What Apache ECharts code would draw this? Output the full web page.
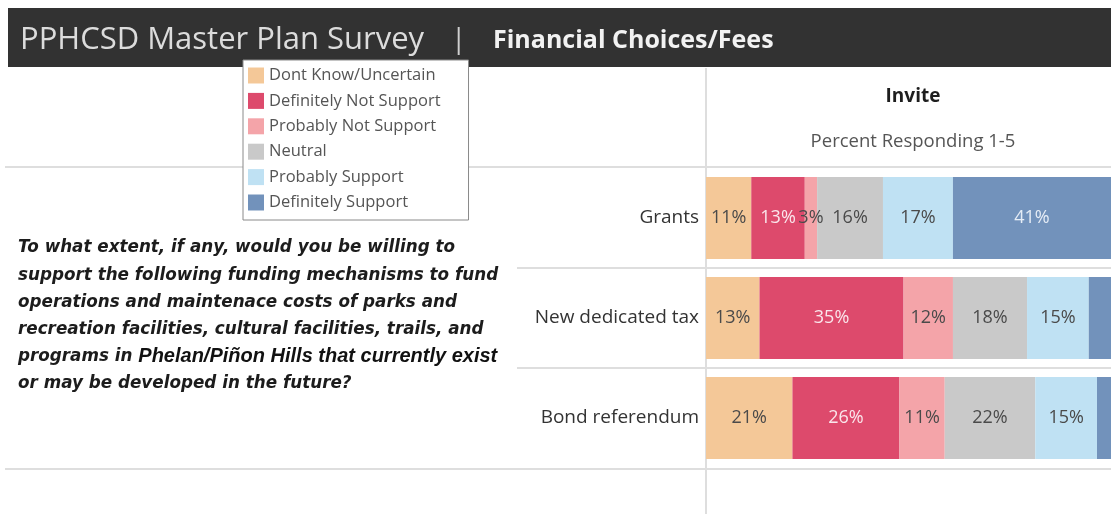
<!DOCTYPE html>
<html>
<head>
<meta charset="utf-8">
<script src="https://cdn.jsdelivr.net/npm/echarts@6/dist/echarts.min.js"></script>
<style>
  html, body { margin: 0; padding: 0; background: #fff; }
  #main { width: 1111px; height: 514px; }
</style>
</head>
<body>
<div id="main"></div>
<script>
// data
var categories = ["Grants", "New dedicated tax", "Bond referendum"];
var responseNames = ["Dont Know/Uncertain", "Definitely Not Support", "Probably Not Support", "Neutral", "Probably Support", "Definitely Support"];
var dontKnow = [11, 13, 21];
var defNotSupport = [13, 35, 26];
var probNotSupport = [3, 12, 11];
var neutral = [16, 18, 22];
var probSupport = [17, 15, 15];
var defSupport = [41, 7, 5];
var questionLines = [
  "To what extent, if any, would you be willing to",
  "support the following funding mechanisms to fund",
  "operations and maintenace costs of parks and",
  "recreation facilities, cultural facilities, trails, and",
  "programs in ",
  "or may be developed in the future?"
];
var questionInsert = "Phelan/Piñon Hills that currently exist";

var seriesValues = [dontKnow, defNotSupport, probNotSupport, neutral, probSupport, defSupport];
var colors = ["#f4c898", "#dd4a6c", "#f4a4a9", "#c9c9c9", "#bfe1f3", "#7292bb"];
var labelColors = ["#4a4a4a", "#fae6eb", "#4a4a4a", "#4a4a4a", "#4a4a4a", "#e6edf6"];

var chart = echarts.init(document.getElementById("main"));

var series = responseNames.map(function (name, i) {
  return {
    name: name,
    type: "bar",
    stack: "total",
    barWidth: 82,
    data: seriesValues[i],
    itemStyle: { color: colors[i] },
    label: {
      show: true,
      position: "inside",
      color: labelColors[i],
      fontSize: 18,
      fontFamily: "Open Sans",
      formatter: function (p) {
        // the last segment is cut off at the right edge
        if (p.seriesIndex === 5 && p.value < 10) return "";
        return p.value + "%";
      }
    }
  };
});

var lineStyle = { stroke: "#dedede", lineWidth: 2 };
var qFont = "bold italic 16.8px 'DejaVu Sans'";

var graphics = [
  { type: "rect", shape: { x: 8, y: 8, width: 1103, height: 59 }, style: { fill: "#323232" }, z: 1 },
  { type: "text", x: 20, y: 40, style: { text: "PPHCSD Master Plan Survey", font: "31px 'Open Sans'", fill: "#dcdcdc", verticalAlign: "middle" }, z: 2 },
  { type: "text", x: 451, y: 40, style: { text: "|", font: "28px 'Open Sans'", fill: "#cfcfcf", verticalAlign: "middle" }, z: 2 },
  { type: "text", x: 493, y: 41, style: { text: "Financial Choices/Fees", font: "bold 25px 'Open Sans'", fill: "#f2f2f2", verticalAlign: "middle" }, z: 2 },
  { type: "line", shape: { x1: 5, y1: 167, x2: 1111, y2: 167 }, style: lineStyle, z: 0 },
  { type: "line", shape: { x1: 517, y1: 268, x2: 1111, y2: 268 }, style: lineStyle, z: 0 },
  { type: "line", shape: { x1: 517, y1: 368, x2: 1111, y2: 368 }, style: lineStyle, z: 0 },
  { type: "line", shape: { x1: 5, y1: 469, x2: 1111, y2: 469 }, style: lineStyle, z: 0 },
  { type: "line", shape: { x1: 706, y1: 68, x2: 706, y2: 514 }, style: lineStyle, z: 0 },
  { type: "text", x: 913, y: 97, style: { text: "Invite", font: "bold 19px 'Open Sans'", fill: "#1e1e1e", align: "center", verticalAlign: "middle" } },
  { type: "text", x: 913, y: 142, style: { text: "Percent Responding 1-5", font: "18.5px 'Open Sans'", fill: "#555", align: "center", verticalAlign: "middle" } }
];

questionLines.forEach(function (t, i) {
  var y = 248 + i * 27.2;
  if (i === 4) {
    graphics.push({
      type: "text", x: 18, y: y,
      style: {
        text: "{a|" + t + "}{b|" + questionInsert + "}",
        verticalAlign: "middle",
        rich: {
          a: { font: qFont, fill: "#1c1c1c" },
          b: { font: "bold italic 20px 'Liberation Sans'", fill: "#111" }
        }
      }
    });
  } else {
    graphics.push({ type: "text", x: 18, y: y, style: { text: t, font: qFont, fill: "#1c1c1c", verticalAlign: "middle" } });
  }
});

var option = {
  animation: false,
  backgroundColor: "#fff",
  grid: { left: 706, top: 168, right: 0, height: 300, containLabel: false },
  legend: {
    data: responseNames,
    orient: "vertical",
    left: 243,
    top: 60,
    z: 10,
    icon: "rect",
    itemWidth: 16,
    itemHeight: 16,
    itemGap: 8.4,
    padding: [7, 28, 9, 5],
    backgroundColor: "#fff",
    borderColor: "#8a8a8a",
    borderWidth: 1,
    textStyle: { fontSize: 16.5, fontFamily: "Open Sans", color: "#555" }
  },
  // right part of the chart is cut off in the reference: 100% would sit past the edge
  xAxis: { type: "value", min: 0, max: 98.4, show: false },
  yAxis: {
    type: "category",
    data: categories,
    inverse: true,
    axisLine: { show: false },
    axisTick: { show: false },
    splitLine: { show: false },
    axisLabel: { fontSize: 19, fontFamily: "Open Sans", color: "#333", margin: 7 }
  },
  graphic: graphics,
  series: series
};

chart.setOption(option);
</script>
</body>
</html>
